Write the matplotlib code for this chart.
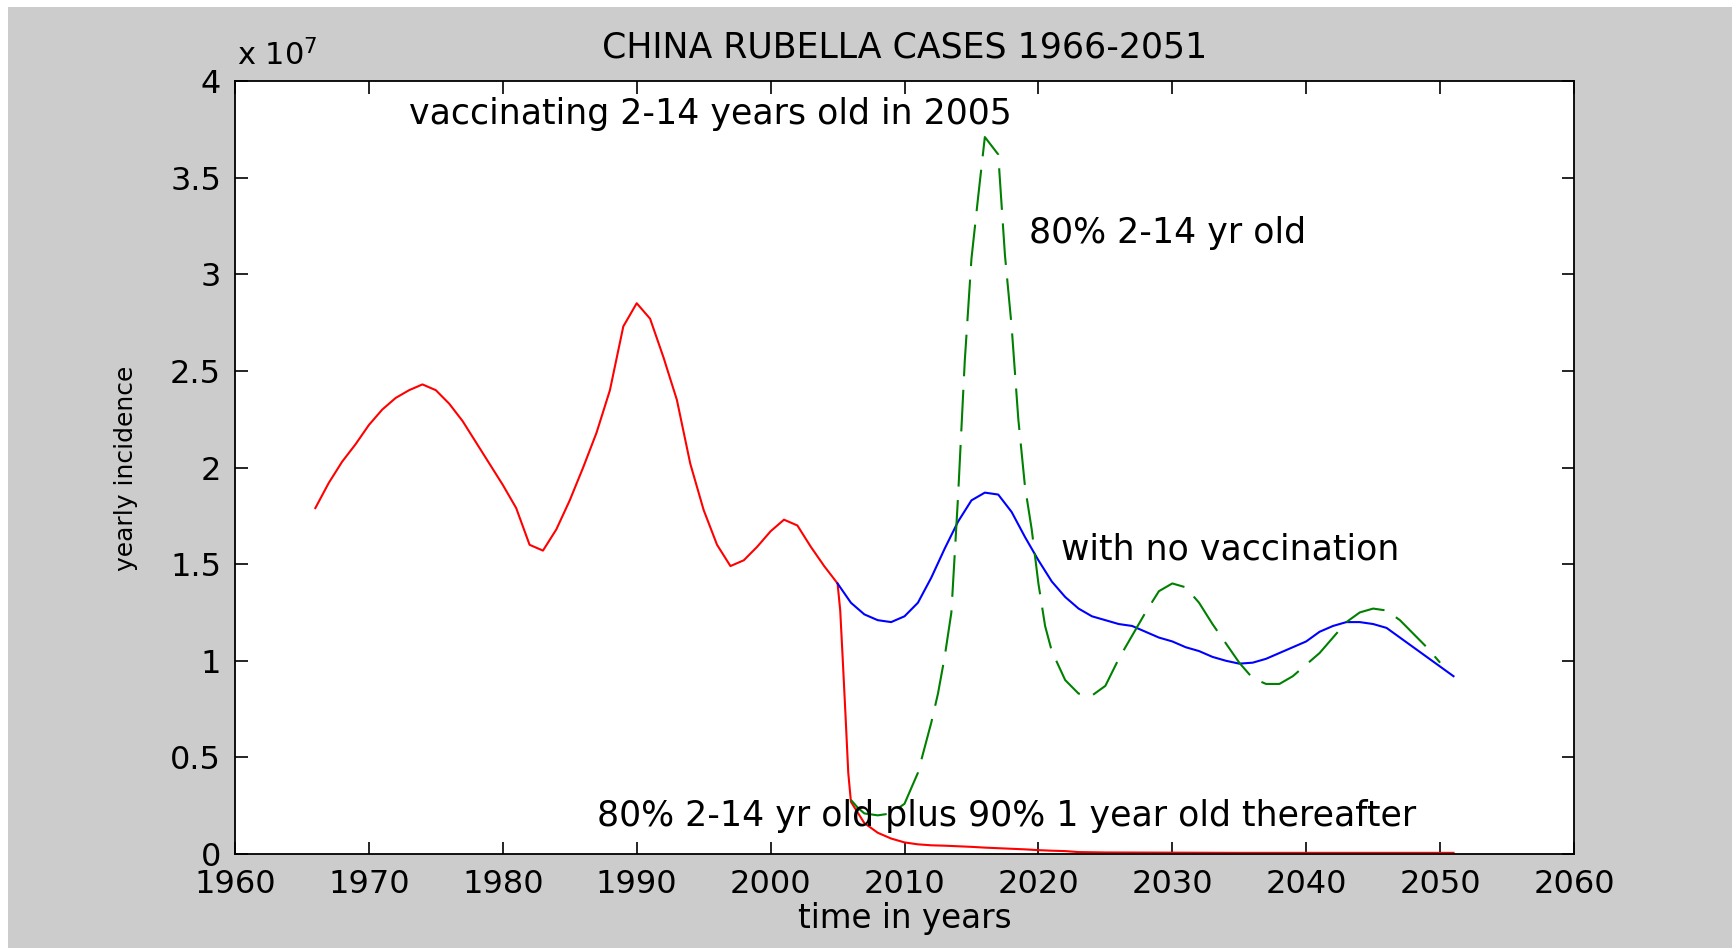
#!/usr/bin/env python3
# -*- coding: utf-8 -*-
"""
Yearly rubella incidence in China 1966-2051 under different vaccination scenarios.
"""
import matplotlib
matplotlib.use("Agg")
import matplotlib.pyplot as plt
from matplotlib.patches import Rectangle
from matplotlib.ticker import FuncFormatter

SCALE = 1e7

# historical + 80% 2-14 yr old plus 90% 1 year old thereafter (units of 1e7)
red_years = [1966, 1967, 1968, 1969, 1970, 1971, 1972, 1973, 1974, 1975,
             1976, 1977, 1978, 1979, 1980, 1981, 1982, 1983, 1984, 1985,
             1986, 1987, 1988, 1989, 1990, 1991, 1992, 1993, 1994, 1995,
             1996, 1997, 1998, 1999, 2000, 2001, 2002, 2003, 2004, 2005,
             2005.2, 2005.4, 2005.6, 2005.8, 2006, 2007, 2008, 2009, 2010,
             2011, 2012, 2013, 2014, 2015, 2016, 2017, 2018, 2019, 2020,
             2021, 2022, 2023, 2025, 2030, 2035, 2040, 2045, 2051]
red_vals = [1.79, 1.92, 2.03, 2.12, 2.22, 2.30, 2.36, 2.40, 2.43, 2.40,
            2.33, 2.24, 2.13, 2.02, 1.91, 1.79, 1.60, 1.57, 1.68, 1.83,
            2.00, 2.18, 2.40, 2.73, 2.85, 2.77, 2.57, 2.35, 2.02, 1.78,
            1.60, 1.49, 1.52, 1.59, 1.67, 1.73, 1.70, 1.59, 1.49, 1.40,
            1.26, 0.99, 0.71, 0.42, 0.27, 0.16, 0.11, 0.08, 0.06,
            0.05, 0.045, 0.043, 0.040, 0.037, 0.033, 0.030, 0.027, 0.024, 0.020,
            0.017, 0.015, 0.010, 0.008, 0.007, 0.006, 0.006, 0.006, 0.006]

# with no vaccination
blue_years = list(range(2005, 2052))
blue_vals = [1.40, 1.30, 1.24, 1.21, 1.20, 1.23, 1.30, 1.43, 1.58, 1.72,
             1.83, 1.87, 1.86, 1.77, 1.64, 1.52, 1.41, 1.33, 1.27, 1.23,
             1.21, 1.19, 1.18, 1.15, 1.12, 1.10, 1.07, 1.05, 1.02, 1.00,
             0.985, 0.99, 1.01, 1.04, 1.07, 1.10, 1.15, 1.18, 1.20, 1.20,
             1.19, 1.17, 1.12, 1.07, 1.02, 0.97, 0.92]

# 80% 2-14 yr old only
green_years = [2006, 2006.5, 2007, 2008, 2009, 2010, 2011, 2012, 2012.5, 2013,
               2013.5, 2014, 2014.5, 2015, 2015.5, 2016, 2017, 2017.5, 2018, 2018.5,
               2019, 2019.5, 2020, 2020.5, 2021, 2022, 2023, 2024, 2025, 2026,
               2027, 2028, 2029, 2030, 2031, 2032, 2033, 2034, 2035, 2036,
               2037, 2038, 2039, 2040, 2041, 2042, 2043, 2044, 2045, 2046,
               2047, 2048, 2049, 2050]
green_vals = [0.28, 0.24, 0.21, 0.20, 0.21, 0.26, 0.42, 0.68, 0.83, 1.02,
              1.25, 1.85, 2.55, 3.08, 3.40, 3.71, 3.62, 3.10, 2.73, 2.25,
              1.90, 1.68, 1.40, 1.18, 1.05, 0.90, 0.83, 0.82, 0.87, 1.01,
              1.13, 1.25, 1.36, 1.40, 1.38, 1.30, 1.19, 1.09, 0.99, 0.91,
              0.88, 0.88, 0.92, 0.98, 1.04, 1.12, 1.20, 1.25, 1.27, 1.26,
              1.21, 1.14, 1.07, 0.99]

xticks = list(range(1960, 2061, 10))
yticks = [0, 0.5, 1, 1.5, 2, 2.5, 3, 3.5, 4]

W, H = 1732, 952
plt.rcParams['font.family'] = ['DejaVu Sans']

fig = plt.figure(figsize=(W / 100, H / 100), dpi=100, facecolor='white')
fig.add_artist(Rectangle((8 / W, 1 - 948 / H), 1 - 8 / W, (948 - 7) / H,
                         transform=fig.transFigure, facecolor='#cccccc',
                         edgecolor='none', zorder=-10))

ax = fig.add_axes([235 / W, 1 - 854 / H, (1574 - 235) / W, (854 - 81) / H])
ax.set_facecolor('white')

ax.plot(red_years, [v * SCALE for v in red_vals], color='red', lw=1.5)
ax.plot(blue_years, [v * SCALE for v in blue_vals], color='blue', lw=1.5)
ax.plot(green_years, [v * SCALE for v in green_vals], color=(0, 0.5, 0), lw=1.5,
        linestyle=(0, (20, 6.5)))

ax.set_xlim(1960, 2060)
ax.set_ylim(0, 4 * SCALE)
ax.set_xticks(xticks)
ax.set_yticks([t * SCALE for t in yticks])
ax.yaxis.set_major_formatter(FuncFormatter(lambda v, p: '%g' % (v / SCALE)))
ax.tick_params(direction='in', length=9, width=1.2, top=True, right=True,
               labelsize=23, colors='black')
ax.tick_params(axis='x', pad=11)
ax.tick_params(axis='y', pad=10)
for s in ax.spines.values():
    s.set_linewidth(1.3)

# scenario labels
ax.text(1973.0, 3.78 * SCALE, 'vaccinating 2-14 years old in 2005',
        fontsize=25, va='baseline', ha='left')
ax.text(2019.3, 3.16 * SCALE, '80% 2-14 yr old', fontsize=25,
        va='baseline', ha='left')
ax.text(2021.7, 1.526 * SCALE, 'with no vaccination', fontsize=25,
        va='baseline', ha='left')
ax.text(1987.0, 0.145 * SCALE, '80% 2-14 yr old plus 90% 1 year old thereafter',
        fontsize=25, va='baseline', ha='left')

fig.text((235 + 1574) / 2 / W, 1 - 57 / H, 'CHINA RUBELLA CASES 1966-2051',
         fontsize=25, ha='center', va='baseline')
fig.text(237 / W, 1 - 65 / H, r'x 10$^{7}$', fontsize=22, ha='left', va='baseline')
fig.text((235 + 1574) / 2 / W, 1 - 928 / H, 'time in years', fontsize=23.5,
         ha='center', va='baseline')
fig.text(126 / W, 1 - 468 / H, 'yearly incidence', fontsize=18, rotation=90,
         ha='center', va='center')

fig.savefig('out.png', dpi=100, facecolor=fig.get_facecolor())
